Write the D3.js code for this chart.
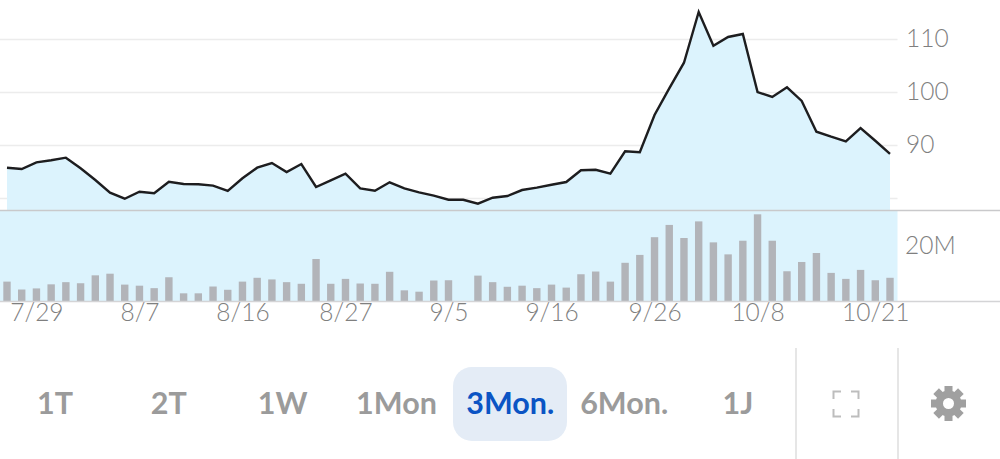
<!DOCTYPE html>
<html>
<head>
<meta charset="utf-8">
<style>
  html, body { margin: 0; padding: 0; background: #fff; }
  svg { display: block; }
  text { font-family: Lato, "Open Sans", sans-serif; }
  .axis text { font-weight: 300; fill: #7f7f7f; font-size: 24.5px; }
</style>
<script src="https://cdn.jsdelivr.net/npm/d3@7"></script>
</head>
<body>
<div id="chart"></div>
<script>
// price per session
var prices = [85.81, 85.57, 86.83, 87.21, 87.70, 85.70, 83.49, 81.09, 79.96, 81.28,
    80.98, 83.17, 82.74, 82.68, 82.42, 81.42, 83.81, 85.81, 86.70, 85.00,
    86.51, 82.17, 83.43, 84.68, 81.92, 81.47, 83.06, 81.92, 81.17, 80.53,
    79.77, 79.77, 79.02, 80.15, 80.47, 81.60, 82.04, 82.60, 83.11, 85.32,
    85.43, 84.68, 88.92, 88.72, 95.75, 100.79, 105.62, 115.19, 108.83, 110.47,
    111.04, 100.09, 99.15, 100.98, 98.40, 92.60, 91.66, 90.79, 93.30, 90.90, 88.40];

// volume in millions, same sessions
var volumes = [7.3, 4.4, 4.8, 6.3, 7.1, 6.7, 9.6, 10.2, 6.2, 5.8,
    4.9, 8.9, 3.0, 3.0, 5.5, 4.3, 7.3, 8.7, 8.1, 7.1,
    6.5, 15.6, 6.5, 8.3, 6.6, 6.5, 10.9, 4.1, 3.6, 7.7,
    7.8, 0, 9.5, 7.1, 5.4, 5.8, 4.9, 6.2, 5.1, 10.0,
    11.0, 7.3, 14.2, 17.1, 23.6, 28.1, 23.3, 29.4, 21.7, 17.3,
    22.3, 32.0, 22.3, 11.1, 14.5, 17.8, 10.5, 8.3, 11.6, 7.8, 8.7];

var dateLabels = ['7/29', '8/7', '8/16', '8/27', '9/5', '9/16', '9/26', '10/8', '10/21'];
var dateSessions = [2, 9, 16, 23, 30, 37, 44, 51, 59];
var priceGrid = [80, 90, 100, 110];
var priceLabels = [90, 100, 110];
var volumeLabels = [20];
var ranges = ['1T', '2T', '1W', '1Mon', '3Mon.', '6Mon.', '1J'];
var activeRange = '3Mon.';

var width = 1000, height = 459;
var plotRight = 897.5, dividerY = 210.5, volumeBase = 301.5;

var svg = d3.select('#chart').append('svg')
    .attr('width', width)
    .attr('height', height);

var x = d3.scaleLinear().domain([0, prices.length - 1]).range([7, 890]);
var y = d3.scaleLinear().domain([80, 110]).range([198.5, 39.5]);
var yVol = d3.scaleLinear().domain([0, 20]).range([volumeBase, 247]);

// blue backgrounds
svg.append('rect')
    .attr('x', 0).attr('y', dividerY)
    .attr('width', plotRight).attr('height', volumeBase - dividerY)
    .attr('fill', '#dcf3fd');

// price grid
svg.append('g').selectAll('line').data(priceGrid).enter().append('line')
    .attr('x1', 0).attr('x2', plotRight)
    .attr('y1', function(d){ return Math.round(y(d)) - 0.5; })
    .attr('y2', function(d){ return Math.round(y(d)) - 0.5; })
    .attr('stroke', '#ececec')
    .attr('stroke-width', 1.5);

var area = d3.area()
    .x(function(d, i){ return x(i); })
    .y0(dividerY)
    .y1(function(d){ return y(d); });

var line = d3.line()
    .x(function(d, i){ return x(i); })
    .y(function(d){ return y(d); });

svg.append('path').datum(prices)
    .attr('d', area)
    .attr('fill', '#dcf3fd');

svg.append('path').datum(prices)
    .attr('d', line)
    .attr('fill', 'none')
    .attr('stroke', '#1d1d1f')
    .attr('stroke-width', 2.4)
    .attr('stroke-linejoin', 'miter');

// volume bars
svg.append('g').selectAll('rect').data(volumes).enter().append('rect')
    .attr('x', function(d, i){ return x(i) - 3.7; })
    .attr('width', 7.4)
    .attr('y', function(d){ return yVol(d); })
    .attr('height', function(d){ return volumeBase - yVol(d); })
    .attr('fill', '#b2b4b9');

// pane separators
svg.append('line')
    .attr('x1', 0).attr('x2', width)
    .attr('y1', dividerY).attr('y2', dividerY)
    .attr('stroke', '#c9c9cb').attr('stroke-width', 1.5);
svg.append('line')
    .attr('x1', 0).attr('x2', width)
    .attr('y1', volumeBase).attr('y2', volumeBase)
    .attr('stroke', '#d4d4d6').attr('stroke-width', 1.5);

// axes
var priceAxis = d3.axisRight(y).tickValues(priceLabels).tickSize(0).tickPadding(0);
var volAxis = d3.axisRight(yVol).tickValues(volumeLabels).tickSize(0).tickPadding(0)
    .tickFormat(function(d){ return d + 'M'; });
var dateAxis = d3.axisBottom(x).tickValues(dateSessions).tickSize(0).tickPadding(0)
    .tickFormat(function(d, i){ return dateLabels[i]; });

svg.append('g').attr('class', 'axis').attr('transform', 'translate(906,-1)').call(priceAxis);
svg.append('g').attr('class', 'axis').attr('transform', 'translate(905,-1)').call(volAxis);
svg.append('g').attr('class', 'axis').attr('transform', 'translate(0,304)').call(dateAxis);
svg.selectAll('.axis .domain').remove();

// range buttons
var btn = d3.scalePoint().domain(ranges).range([55, 738]);

svg.append('rect')
    .attr('x', 453).attr('y', 367)
    .attr('width', 114).attr('height', 74)
    .attr('rx', 19)
    .attr('fill', '#e4ecf6');

svg.append('g').selectAll('text').data(ranges).enter().append('text')
    .attr('x', function(d){ return btn(d); })
    .attr('y', 414)
    .attr('text-anchor', 'middle')
    .attr('font-size', 30.5)
    .attr('font-weight', 700)
    .attr('fill', function(d){ return d === activeRange ? '#0b54c4' : '#9b9b9b'; })
    .text(function(d){ return d; });

// toolbar dividers
svg.append('g').selectAll('line').data([796, 898]).enter().append('line')
    .attr('x1', function(d){ return d; }).attr('x2', function(d){ return d; })
    .attr('y1', 348).attr('y2', height)
    .attr('stroke', '#dedede').attr('stroke-width', 1.5);

// fullscreen icon
svg.append('path')
    .attr('d', 'M833.5,399V391.5H841 M851,391.5H858.5V399 M858.5,409V416.5H851 M841,416.5H833.5V409')
    .attr('fill', 'none')
    .attr('stroke', '#bdbdbd')
    .attr('stroke-width', 2);

// settings gear
var gear = svg.append('g').attr('transform', 'translate(948.5,403.5)');
gear.append('circle').attr('r', 13).attr('fill', '#a0a0a0');
gear.selectAll('rect').data(d3.range(8)).enter().append('rect')
    .attr('x', -4).attr('y', -17.5)
    .attr('width', 8).attr('height', 8)
    .attr('fill', '#a0a0a0')
    .attr('transform', function(d){ return 'rotate(' + d * 45 + ')'; });
gear.append('circle').attr('r', 5.5).attr('fill', '#fff');
</script>
</body>
</html>
